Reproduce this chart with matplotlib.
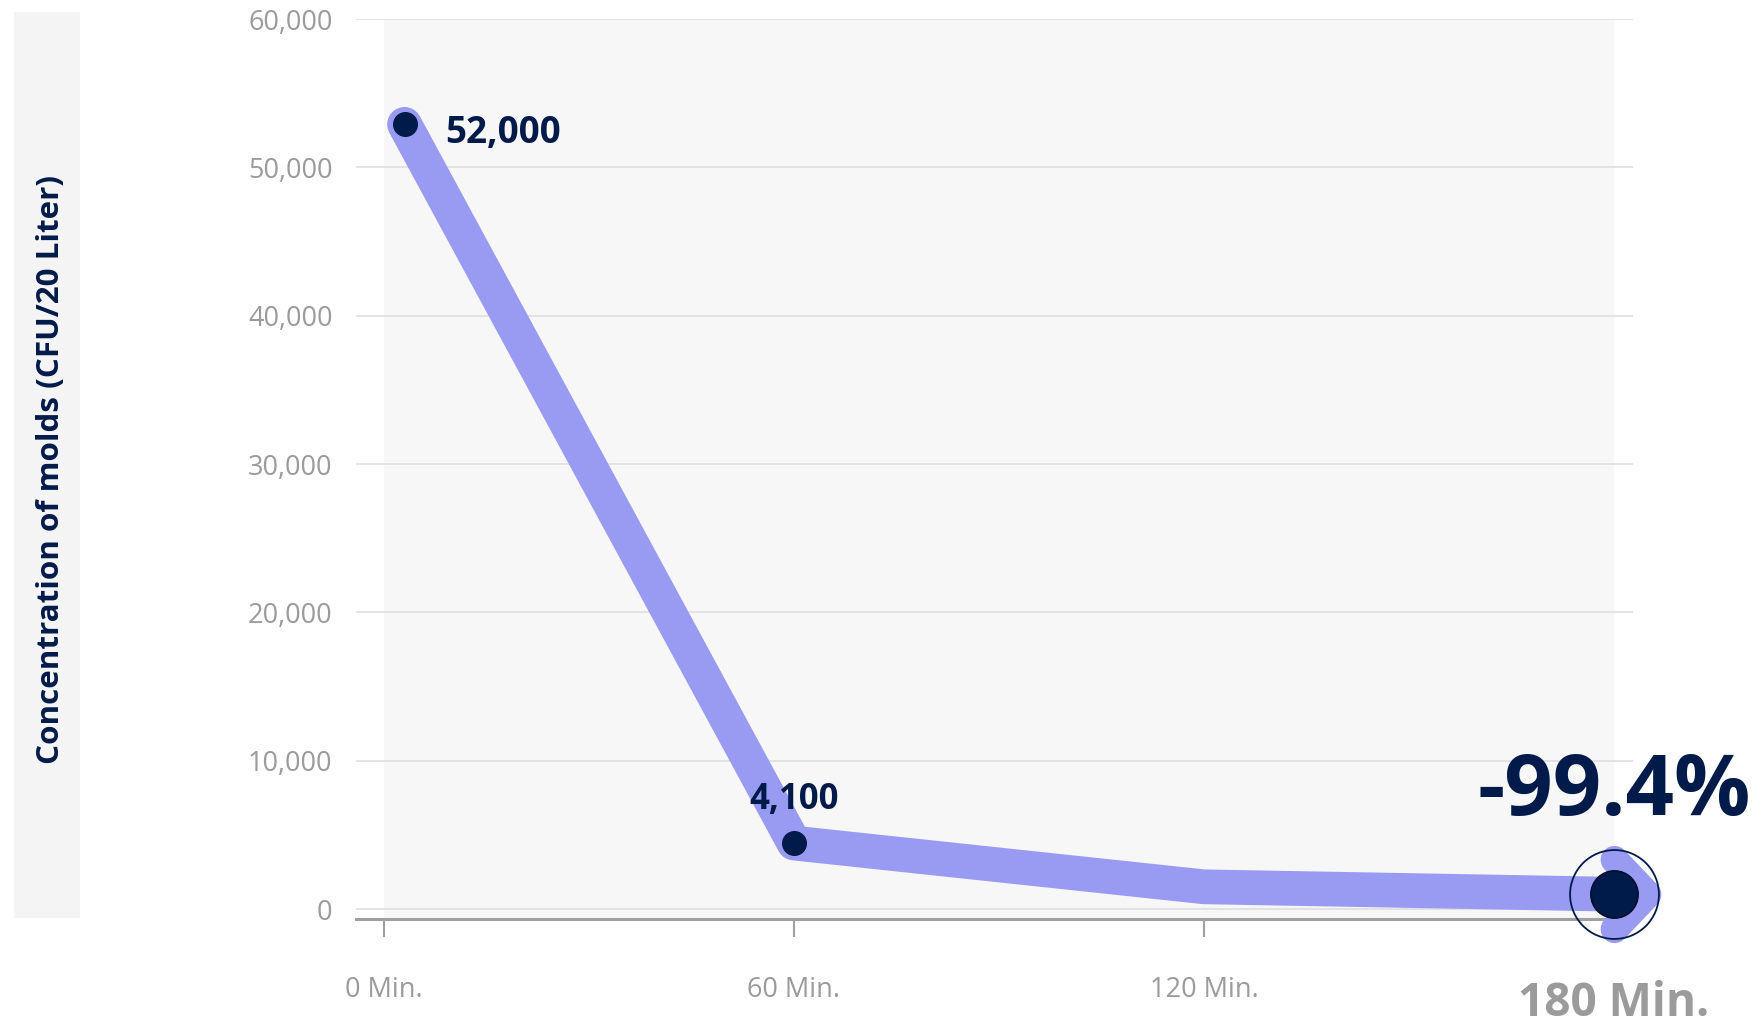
import matplotlib
matplotlib.use("Agg")
import matplotlib.pyplot as plt
from matplotlib.path import Path
from matplotlib.markers import MarkerStyle
from matplotlib.patches import Rectangle

# ---- data ----
minutes = [3, 60, 120, 180]
concentration = [52900, 4450, 1500, 1000]
point_labels = ["52,000", "4,100", "", "-99.4%"]
tick_positions = [0, 60, 120, 180]
tick_labels = ["0 Min.", "60 Min.", "120 Min.", "180 Min."]
y_ticks = [0, 10000, 20000, 30000, 40000, 50000, 60000]
y_label = "Concentration of molds (CFU/20 Liter)"

LINE = "#999AF2"
NAVY = "#001B4A"
GREY_TXT = "#9B9B9B"

plt.rcParams["font.family"] = ["Open Sans", "DejaVu Sans"]

fig = plt.figure(figsize=(17.54, 10.24), dpi=100)
ax = fig.add_axes([356 / 1754, 1 - 919 / 1024, (1633 - 356) / 1754, (919 - 19) / 1024])
ax.set_facecolor("white")
ax.set_xlim(-4.1, 182.8)
ax.set_ylim(-670, 60000)

# plot-area background band
ax.axvspan(0, 180, color="#F7F7F7", zorder=0, lw=0)

# y label box
fig.patches.append(Rectangle((14 / 1754, 1 - 918 / 1024), 66 / 1754, 906 / 1024,
                             transform=fig.transFigure, facecolor="#F4F4F4",
                             edgecolor="none", zorder=0))
fig.text(51 / 1754, 1 - 470 / 1024, y_label, rotation=90, ha="center", va="center",
         fontsize=22.6, fontweight="bold", color=NAVY)

# grid
ax.set_yticks(y_ticks)
ax.set_yticklabels([f"{v:,}" for v in y_ticks])
ax.grid(axis="y", color="#DCDCDC", lw=1.1, zorder=1)
ax.grid(axis="x", visible=False)
for s in ["left", "right", "top"]:
    ax.spines[s].set_visible(False)
ax.spines["bottom"].set_color("#A0A0A0")
ax.spines["bottom"].set_linewidth(2.2)
ax.spines["bottom"].set_zorder(2)

ax.tick_params(axis="y", length=0, pad=17, labelsize=19.5, labelcolor=GREY_TXT)
ax.set_xticks(tick_positions)
ax.set_xticklabels(tick_labels)
ax.tick_params(axis="x", length=13, width=1.5, color="#A0A0A0", pad=28,
               labelsize=19.5, labelcolor=GREY_TXT)
last = ax.get_xticklabels()[-1]
last.set_fontsize(33)
last.set_fontweight("bold")
ax.xaxis.get_major_ticks()[-1].set_pad(31)

# main line
ax.plot(minutes, concentration, color=LINE, lw=25, solid_capstyle="round",
        solid_joinstyle="round", zorder=3, clip_on=False)

# chevron at end
chev = Path([(0, 1), (0.95, 0), (0, -1)], [Path.MOVETO, Path.LINETO, Path.LINETO])
chev_marker = MarkerStyle(chev, fillstyle="none", capstyle="round", joinstyle="miter")
ax.plot(minutes[-1:], concentration[-1:], marker=chev_marker, markersize=50,
        markeredgewidth=20, color=LINE, linestyle="none", zorder=3, clip_on=False)

# points (no dot at 120 min)
ax.plot([minutes[0], minutes[1]], [concentration[0], concentration[1]], "o",
        color=NAVY, markersize=17, linestyle="none", zorder=4, clip_on=False)
ax.plot(minutes[-1:], concentration[-1:], "o", color=NAVY, markersize=34,
        markeredgecolor="#000F2E", markeredgewidth=1.2, linestyle="none",
        zorder=5, clip_on=False)
ax.plot(minutes[-1:], concentration[-1:], "o", markerfacecolor="none",
        markeredgecolor=NAVY, markeredgewidth=1.3, markersize=64,
        linestyle="none", zorder=5, clip_on=False)

# labels
ax.annotate(point_labels[0], (minutes[0], concentration[0]), xytext=(29, -6),
            textcoords="offset points", ha="left", va="center", fontsize=26.5,
            fontweight="bold", color=NAVY, zorder=6)
ax.annotate(point_labels[1], (minutes[1], concentration[1]), xytext=(0, 31),
            textcoords="offset points", ha="center", va="center", fontsize=25,
            fontweight="bold", color=NAVY, zorder=6)
ax.annotate(point_labels[3], (minutes[3], concentration[3]), xytext=(0, 73),
            textcoords="offset points", ha="center", va="center", fontsize=61,
            fontweight="bold", color=NAVY, zorder=6, annotation_clip=False)

fig.savefig("out.png", dpi=100)
